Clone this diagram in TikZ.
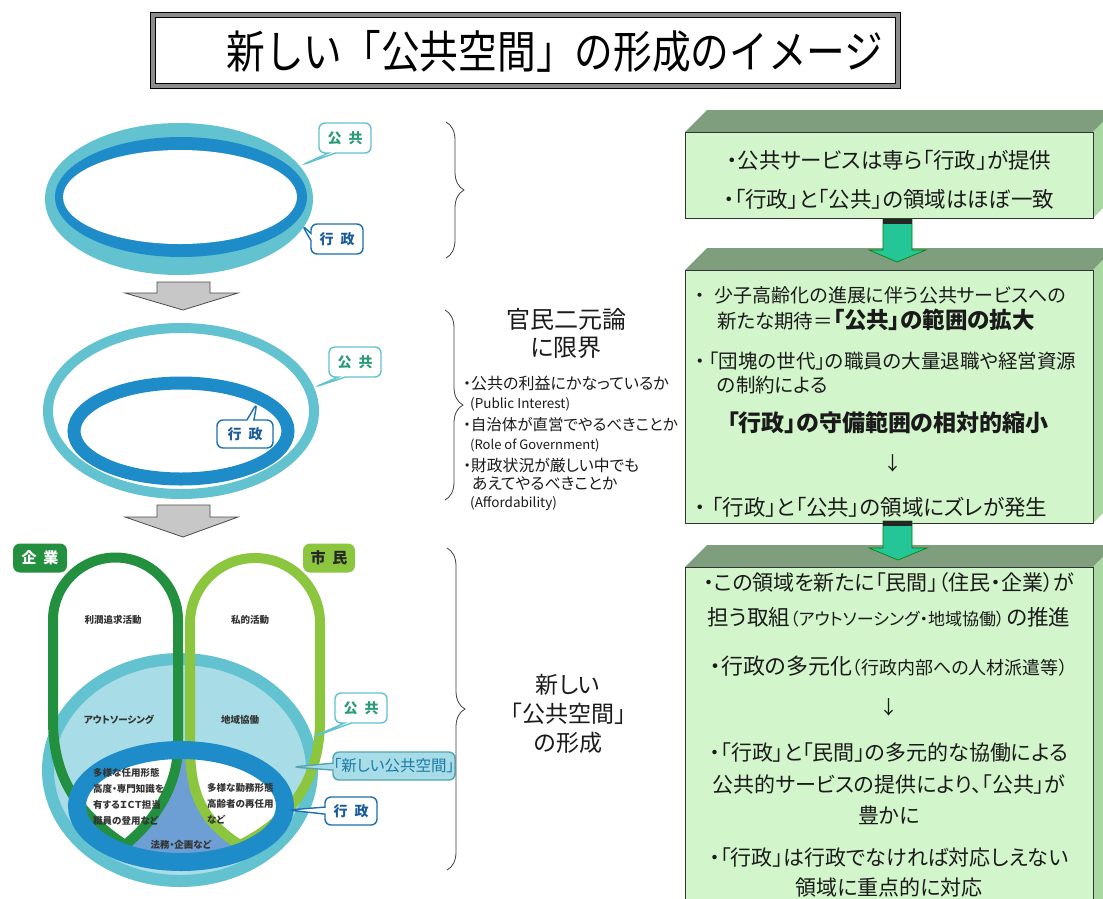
\documentclass[tikz,border=0pt]{standalone}
\usepackage{fontspec}
\setmainfont{Noto Sans CJK JP}[RawFeature=+palt]
\newfontfamily\jpfull{Noto Sans CJK JP}
\usetikzlibrary{shapes.callouts,decorations.pathreplacing}
\definecolor{kteal}{HTML}{62C2D0}
\definecolor{kblue}{HTML}{1E8CC8}
\definecolor{kbline}{HTML}{1A6FB0}
\definecolor{kpale}{HTML}{A8DCE6}
\definecolor{kmid}{HTML}{6E9FD4}
\definecolor{dgreen}{HTML}{22903E}
\definecolor{lgreen}{HTML}{8CC63F}
\definecolor{kgtext}{HTML}{2A9A78}
\definecolor{kbtext}{HTML}{1A5C9A}
\definecolor{kntext}{HTML}{1A7AA8}
\definecolor{boxfront}{HTML}{D3F5CC}
\definecolor{boxtop}{HTML}{7E9E7E}
\definecolor{boxside}{HTML}{AAD8A2}
\definecolor{garrow}{HTML}{24C596}
\definecolor{txt}{HTML}{1A1A1A}
\newcommand\fs[1]{\fontsize{#1}{#1}\selectfont}
\begin{document}
\begin{tikzpicture}[x=1pt,y=-1pt,
  pubcall/.style={rectangle callout, rounded corners=6pt, draw=kteal, line width=1.4pt, fill=white, text=kgtext, font=\fs{14}\bfseries, inner sep=0pt, minimum height=30pt, minimum width=52pt, callout pointer width=7pt},
  govcall/.style={pubcall, draw=kbline, text=kbtext},
  smalltxt/.style={font=\fs{9.5}\bfseries, text=black!80, inner sep=0pt},
  boxtxt/.style={text=txt, inner sep=0pt},
  midtxt/.style={text=txt, inner sep=0pt, anchor=west},
  bracestyle/.style={decorate, decoration={brace, amplitude=18pt}, line width=0.8pt, black!75},
  grayarrow/.style={fill=black!22, draw=black!70, line width=0.8pt},
  greenarrow/.style={fill=garrow, draw=black!50!green, line width=0.6pt}
]
\useasboundingbox (0,0) rectangle (1103,898);
\fill[white] (0,0) rectangle (1103,898);
\clip (0,0) rectangle (1103,898);

% ---------- title ----------
\fill[black!45] (150,12) rectangle (900,88);
\fill[white] (155,17) rectangle (895,83);
\draw[black, line width=0.8pt] (150,12) rectangle (900,88);
\draw[black, line width=0.8pt] (155,17) rectangle (895,83);
\node[text=black, inner sep=0pt] (title) at (555,51) {\scalebox{0.86}[1]{\jpfull\fs{45}新しい「公共空間」の形成のイメージ}};

% ---------- diagram 1 ----------
\fill[kteal] (179,199) ellipse [x radius=134, y radius=76];
\fill[kblue] (181,197) ellipse [x radius=126, y radius=60];
\fill[white] (180,197) ellipse [x radius=117, y radius=47];
\node[pubcall, callout absolute pointer={(302,165)}] (c1) at (345,138) {公\hspace{7pt}共};
\node[govcall, callout absolute pointer={(302,225)}] (c2) at (337,239) {行\hspace{7pt}政};
\draw[bracestyle] (446,122) -- (446,258);

% gray arrow 1
\draw[grayarrow] (157,282) -- (210,282) -- (210,293) -- (238,293) -- (183,310) -- (125,293) -- (157,293) -- cycle;

% ---------- diagram 2 ----------
\draw[kteal, line width=10pt] (181,411) ellipse [x radius=133, y radius=83];
\draw[kblue, line width=13pt] (181,431) ellipse [x radius=107, y radius=48];
\node[pubcall, callout absolute pointer={(315,387)}] (c3) at (355,362) {公\hspace{7pt}共};
\node[govcall, minimum height=28pt, minimum width=56pt, callout absolute pointer={(257,403)}] (c4) at (245,434) {行\hspace{7pt}政};
\draw[bracestyle] (445,310) -- (445,500);

\node[text=txt, inner sep=0pt] (m1) at (566,319) {\fs{24}官民二元論};
\node[text=txt, inner sep=0pt] (m2) at (566,348) {\fs{24}に限界};
\node[midtxt] (m3) at (463,383) {\fs{16}・公共の利益にかなっているか};
\node[midtxt] (m4) at (470,404) {\fs{13.5}(Public Interest)};
\node[midtxt] (m5) at (463,425) {\fs{15.5}・自治体が直営でやるべきことか};
\node[midtxt] (m6) at (470,445) {\fs{13}(Role of Government)};
\node[midtxt] (m7) at (463,465) {\fs{15.8}・財政状況が厳しい中でも};
\node[midtxt] (m8) at (472,484) {\fs{15.8}あえてやるべきことか};
\node[midtxt] (m9) at (470,504) {\fs{13.5}(Affordability)};

% gray arrow 2
\draw[grayarrow] (157,505) -- (210,505) -- (210,517) -- (238,517) -- (183,537) -- (125,517) -- (157,517) -- cycle;

% ---------- diagram 3 ----------
\draw[kteal, fill=kpale, line width=12pt] (180,770) ellipse [x radius=132, y radius=111];
\fill[white] (181,806) ellipse [x radius=104, y radius=56];
\begin{scope}
  \clip (181,806) ellipse [x radius=104, y radius=56];
  \fill[kmid] (178,745) .. controls (178,790) and (150,825) .. (125,845) -- (125,880) -- (240,880) -- (240,845) .. controls (200,820) and (190,790) .. (190,745) -- cycle;
\end{scope}
\draw[dgreen, line width=10pt] (125,845) .. controls (80,815) and (53,780) .. (53,720) -- (53,620) arc[start angle=180, end angle=360, radius=62.5] -- (178,745) .. controls (178,790) and (150,825) .. (125,845) -- cycle;
\draw[lgreen, line width=10pt] (240,845) .. controls (200,820) and (190,790) .. (190,745) -- (190,623) arc[start angle=180, end angle=360, radius=65] -- (320,720) .. controls (320,790) and (280,825) .. (240,845) -- cycle;
\draw[kblue, line width=18pt] (181,806) ellipse [x radius=104, y radius=56];

\node[rounded corners=7pt, fill=dgreen, text=white, font=\fs{15}\bfseries, minimum width=54pt, minimum height=29pt, inner sep=0pt] (kig) at (40,558) {企\hspace{7pt}業};
\node[rounded corners=7pt, fill=lgreen, text=black!85, font=\fs{15}\bfseries, minimum width=52pt, minimum height=29pt, inner sep=0pt] (sim) at (329,558) {市\hspace{7pt}民};

\node[smalltxt] (s1) at (113,620) {利潤追求活動};
\node[smalltxt] (s2) at (250,620) {私的活動};
\node[smalltxt] (s3) at (119,720) {アウトソーシング};
\node[smalltxt] (s4) at (240,720) {地域協働};
\node[smalltxt, anchor=west] (s5) at (93,773) {多様な任用形態};
\node[smalltxt, anchor=west] (s6) at (93,789) {高度・専門知識を};
\node[smalltxt, anchor=west] (s7) at (93,805) {有するＩＣＴ担当};
\node[smalltxt, anchor=west] (s8) at (93,821) {職員の登用など};
\node[smalltxt, anchor=west] (s9) at (207,788) {多様な勤務形態};
\node[smalltxt, anchor=west] (s10) at (207,804) {高齢者の再任用};
\node[smalltxt, anchor=west] (s11) at (207,820) {など};
\node[smalltxt] (s12) at (181,845) {法務・企画など};

\node[pubcall, callout absolute pointer={(313,737)}] (c5) at (361,708) {公\hspace{7pt}共};
\node[pubcall, fill=kpale, draw=kteal!85!black, text=kntext, font=\fs{15.5}, minimum width=122pt, minimum height=28pt, callout absolute pointer={(293,767)}] (c6) at (394,766) {「新しい公共空間」};
\node[govcall, minimum height=28pt, callout absolute pointer={(288,810)}] (c7) at (351,811) {行\hspace{7pt}政};
\draw[bracestyle] (447,548) -- (447,870);

\node[text=txt, inner sep=0pt] (n1) at (568,685) {\fs{23}新しい};
\node[text=txt, inner sep=0pt] (n2) at (568,714) {\jpfull\fs{23}「公共空間」};
\node[text=txt, inner sep=0pt] (n3) at (568,743) {\fs{23}の形成};

% ---------- right box 1 ----------
\fill[boxtop] (685,132) -- (707,110) -- (1115,110) -- (1093,132) -- cycle;
\fill[boxside] (1093,132) -- (1115,110) -- (1115,196) -- (1093,218) -- cycle;
\filldraw[fill=boxfront, draw=black!80, line width=0.8pt] (685,132) rectangle (1093,218);
\node[boxtxt] (b1a) at (889,160) {\fs{21.5}・公共サービスは専ら「行政」が提供};
\node[boxtxt] (b1b) at (889,199) {\fs{21.5}・「行政」と「公共」の領域はほぼ一致};

% ---------- right box 2 ----------
\fill[boxtop] (685,270) -- (707,248) -- (1115,248) -- (1093,270) -- cycle;
\fill[boxside] (1093,270) -- (1115,248) -- (1115,501) -- (1093,523) -- cycle;
\filldraw[fill=boxfront, draw=black!80, line width=0.8pt] (685,270) rectangle (1093,523);
\draw[greenarrow] (883,219) -- (912,219) -- (912,250) -- (926,250) -- (897,262) -- (869,250) -- (883,250) -- cycle;
\fill[black!85] (883,219) rectangle (912,224);
\node[boxtxt, anchor=west] (b2a) at (695,295) {\fs{19}・\hspace{10pt}少子高齢化の進展に伴う公共サービスへの};
\node[boxtxt, anchor=west] (b2b) at (717,320) {\fs{19.5}新たな期待＝{\bfseries\fs{22.5}「公共」の範囲の拡大}};
\node[boxtxt, anchor=west] (b2c) at (695,361) {\fs{19.5}・\hspace{4pt}「団塊の世代」の職員の大量退職や経営資源};
\node[boxtxt, anchor=west] (b2d) at (717,385) {\fs{19.5}の制約による};
\node[boxtxt] (b2e) at (888,423) {\bfseries\fs{23}「行政」の守備範囲の相対的縮小};
\node[boxtxt] (b2f) at (893,463) {\fs{19}↓};
\node[boxtxt, anchor=west] (b2g) at (695,507) {\fs{21.5}・\hspace{6pt}「行政」と「公共」の領域にズレが発生};

% ---------- right box 3 ----------
\fill[boxtop] (685,567) -- (707,545) -- (1115,545) -- (1093,567) -- cycle;
\fill[boxside] (1093,567) -- (1115,545) -- (1115,898) -- (1093,910) -- cycle;
\filldraw[fill=boxfront, draw=black!80, line width=0.8pt] (685,567) rectangle (1093,910);
\draw[greenarrow] (883,521) -- (912,521) -- (912,548) -- (927,548) -- (898,560) -- (869,548) -- (883,548) -- cycle;
\fill[black!85] (883,521) rectangle (912,526);
\node[boxtxt] (b3a) at (889,583) {\fs{21}・この領域を新たに「民間」（住民・企業）が};
\node[boxtxt] (b3b) at (889,617) {\fs{21.5}担う取組{\fs{17}（アウトソーシング・地域協働）}\hspace{2pt}の推進};
\node[boxtxt] (b3c) at (889,666) {\fs{22}・行政の多元化{\fs{18}（行政内部への人材派遣等）}};
\node[boxtxt] (b3d) at (889,707) {\fs{19}↓};
\node[boxtxt] (b3e) at (889,753) {\fs{21}・「行政」と「民間」の多元的な協働による};
\node[boxtxt] (b3f) at (889,785) {\fs{21}公共的サービスの提供により、「公共」が};
\node[boxtxt] (b3g) at (889,815) {\fs{21}豊かに};
\node[boxtxt] (b3h) at (889,858) {\fs{21}・「行政」は行政でなければ対応しえない};
\node[boxtxt] (b3i) at (889,887) {\fs{21}領域に重点的に対応};
\end{tikzpicture}
\end{document}
